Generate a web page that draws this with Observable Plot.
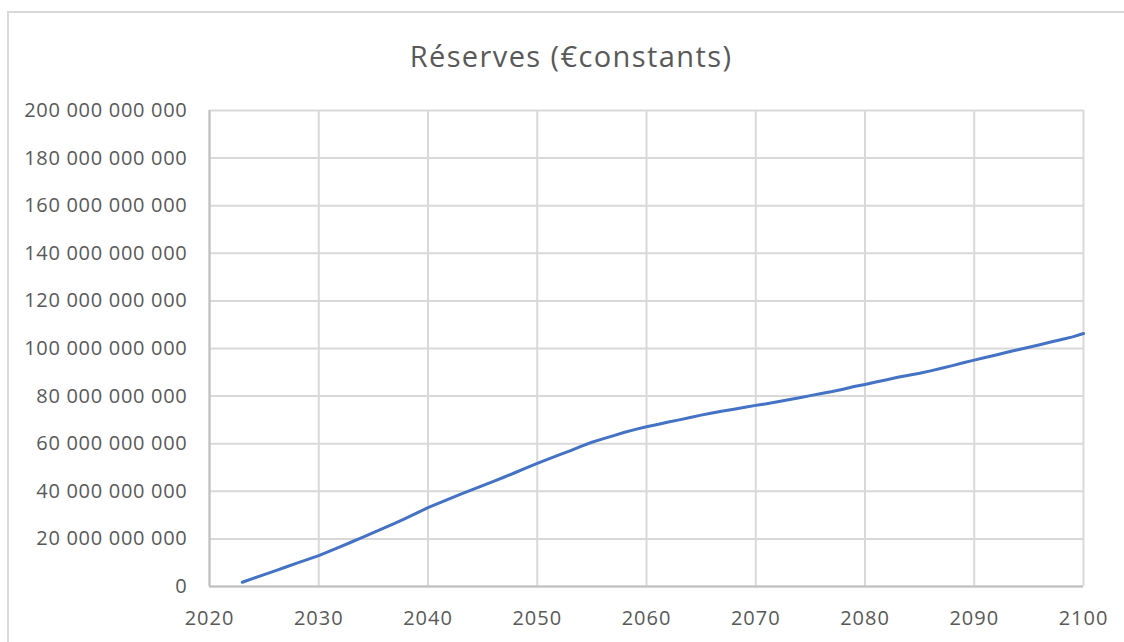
<!DOCTYPE html>
<html>
<head>
<meta charset="utf-8">
<script src="https://cdn.jsdelivr.net/npm/d3@7"></script>
<script src="https://cdn.jsdelivr.net/npm/@observablehq/plot@0.6"></script>
<style>
  html, body { margin: 0; padding: 0; background: #fff; overflow: hidden; }
  #frame { position: absolute; left: 7px; top: 11px; width: 1200px; height: 700px;
           border-left: 2px solid #d9d9d9; border-top: 2px solid #d9d9d9; box-sizing: border-box; }
  #title { position: absolute; left: 0; width: 1142px; top: 36px; text-align: center;
           font-family: "Open Sans", sans-serif; font-size: 29px; letter-spacing: 1.4px; color: #595959; line-height: 40px; }
  #chart { position: absolute; left: 0; top: 0; }
  #chart svg g[aria-label="y-axis tick label"] text { letter-spacing: 0.7px; }
  #chart svg g[aria-label="x-axis tick label"] text { letter-spacing: 1px; }
</style>
</head>
<body>
<div id="frame"></div>
<div id="title">Réserves (€constants)</div>
<div id="chart"></div>
<script>
const years = d3.range(2023, 2101);
const reservesBn = [
  1.8, 3.4, 5.0, 6.6, 8.2, 9.8, 11.4, 13.0,
  14.9, 16.8, 18.7, 20.6, 22.6, 24.6, 26.6, 28.7, 30.9, 33.1,
  35.0, 36.9, 38.8, 40.6, 42.4, 44.2, 46.0, 47.9, 49.8, 51.7,
  53.5, 55.3, 57.0, 58.9, 60.6, 62.0, 63.4, 64.8, 66.0, 67.1,
  68.1, 69.1, 70.0, 71.0, 72.0, 72.9, 73.7, 74.5, 75.3, 76.1,
  76.8, 77.6, 78.5, 79.3, 80.2, 81.1, 81.9, 82.9, 84.0, 84.9,
  85.9, 86.9, 87.9, 88.8, 89.6, 90.6, 91.7, 92.8, 94.0, 95.1,
  96.2, 97.3, 98.4, 99.5, 100.5, 101.6, 102.7, 103.8, 104.9, 106.3
];
const xTicks = [2020, 2030, 2040, 2050, 2060, 2070, 2080, 2090, 2100];
const yTicks = [0, 20e9, 40e9, 60e9, 80e9, 100e9, 120e9, 140e9, 160e9, 180e9, 200e9];

const data = years.map((y, i) => ({year: y, value: reservesBn[i] * 1e9}));
const fmt = v => v === 0 ? "0" : d3.format(",")(v).replace(/,/g, "\u00a0");

const chart = Plot.plot({
  width: 1124,
  height: 642,
  marginTop: 110,
  marginBottom: 56,
  marginLeft: 209,
  marginRight: 41,
  style: {fontFamily: "'Open Sans', sans-serif", fontSize: "20px", color: "#595959", background: "transparent"},
  x: {domain: [2020, 2100]},
  y: {domain: [0, 200e9]},
  marks: [
    Plot.gridX(xTicks, {stroke: "#d9d9d9", strokeOpacity: 1, strokeWidth: 2}),
    Plot.gridY(yTicks, {stroke: "#d9d9d9", strokeOpacity: 1, strokeWidth: 2}),
    Plot.ruleY([0], {stroke: "#bfbfbf", strokeWidth: 2}),
    Plot.ruleX([2020], {stroke: "#bfbfbf", strokeWidth: 2}),
    Plot.axisX(xTicks, {tickSize: 0, tickPadding: 24, tickFormat: d => String(d), label: null, fill: "#595959", ariaLabel: "x-axis"}),
    Plot.axisY(yTicks, {tickSize: 0, tickPadding: 22, tickFormat: fmt, label: null, fill: "#595959", ariaLabel: "y-axis"}),
    Plot.line(data, {x: "year", y: "value", stroke: "#4472C4", strokeWidth: 3, curve: "linear"})
  ]
});
document.getElementById("chart").appendChild(chart);
</script>
</body>
</html>
